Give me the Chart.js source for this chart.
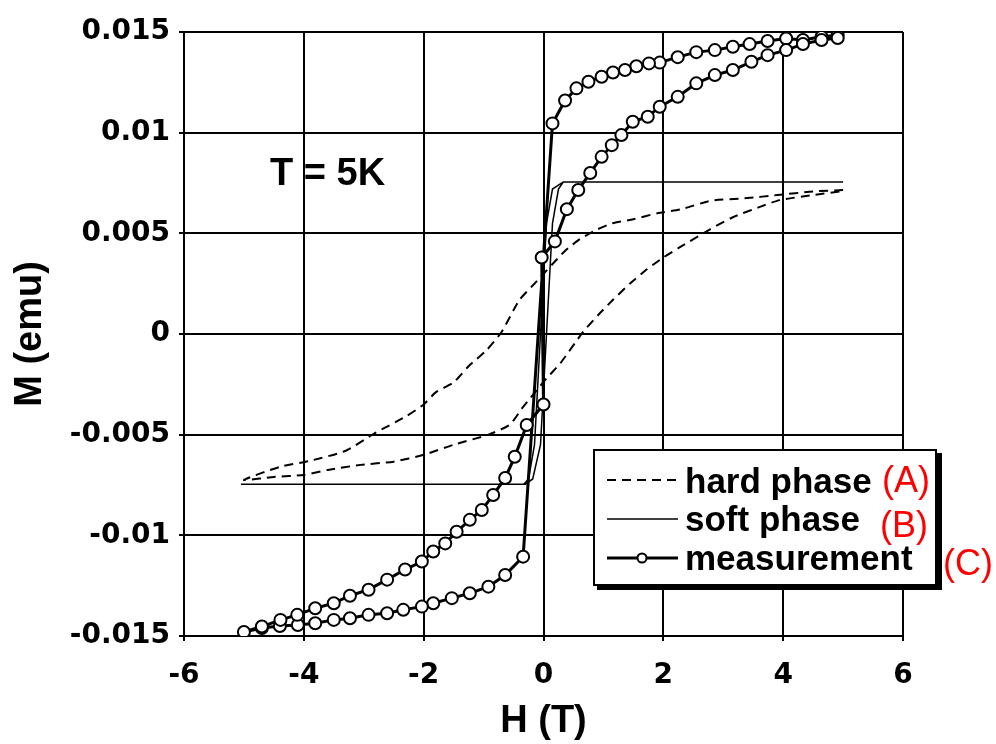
<!DOCTYPE html>
<html>
<head>
<meta charset="utf-8">
<script src="https://cdn.jsdelivr.net/npm/chart.js@4"></script>
<style>
  body { margin: 0; background: #fff; }
  #wrap { width: 996px; height: 744px; }
</style>
</head>
<body>
<div id="wrap"><canvas id="myChart" width="996" height="744"></canvas></div>
<script>
// tick values / labels
const xTicks = [-6, -4, -2, 0, 2, 4, 6];
const yTicks = [-0.015, -0.01, -0.005, 0, 0.005, 0.01, 0.015];
const yTickLabels = ['-0.015', '-0.01', '-0.005', '0', '0.005', '0.01', '0.015'];

// hard phase (A): upper branch +5 -> -5, then lower branch -5 -> +5
const hardH = [5.0, 4.5, 3.9, 3.4, 2.8, 2.3, 1.9, 1.5, 1.15, 0.9, 0.6, 0.35, -0.15, -0.4, -0.7, -0.95, -1.25, -1.5, -1.8, -2.0, -2.3, -2.8, -3.3, -3.9, -4.4, -5.0,
               -4.5, -4.0, -3.6, -3.05, -2.5, -2.0, -1.5, -0.92, -0.56, -0.36, 0.05, 0.28, 0.66, 0.94, 1.16, 1.44, 1.72, 2.0, 2.27, 2.78, 3.16, 3.6, 3.94, 4.5, 5.0];
const hardM = [0.00715, 0.00708, 0.0069, 0.00675, 0.00662, 0.0062, 0.006, 0.0057, 0.0055, 0.0052, 0.0047, 0.0041, 0.0025, 0.0017, 0.0001, -0.0008, -0.0016, -0.0024, -0.0029, -0.0035, -0.0041, -0.0049, -0.0058, -0.0063, -0.0066, -0.00725,
               -0.0071, -0.007, -0.00675, -0.0065, -0.00634, -0.006, -0.0055, -0.005, -0.0045, -0.0037, -0.0022, -0.00146, 0.0001, 0.00103, 0.0017, 0.0025, 0.0032, 0.0038, 0.0043, 0.0052, 0.0058, 0.0063, 0.00665, 0.0069, 0.0071];

// soft phase (B)
const softH = [5.0, 0.33, 0.15, 0.05, -0.05, -0.15, -0.25, -0.33, -5.05,
               -0.3, -0.18, -0.05, 0.05, 0.15, 0.25, 0.33, 5.0];
const softM = [0.00755, 0.00755, 0.0072, 0.0055, 0.0, -0.0055, -0.0072, -0.00746, -0.00746,
               -0.00746, -0.0072, -0.0055, 0.0, 0.0055, 0.0072, 0.00755, 0.00755];

// measurement (C)
const measH = [4.91, 4.64, 4.33, 4.05, 3.74, 3.44, 3.16, 2.86, 2.55, 2.24, 1.94, 1.76, 1.55, 1.36, 1.16, 0.97, 0.75, 0.55, 0.36, 0.15,
               -0.34, -0.64, -0.92, -1.23, -1.53, -1.84, -2.03, -2.34, -2.61, -2.92, -3.23, -3.5, -3.81, -4.1, -4.4, -4.7, -5.0,
               -4.7, -4.39, -4.11, -3.81, -3.5, -3.23, -2.92, -2.61, -2.31, -2.03, -1.84, -1.64, -1.45, -1.23, -1.03, -0.84, -0.64, -0.48, -0.28, 0.0,
               -0.03, 0.19, 0.39, 0.58, 0.78, 0.97, 1.14, 1.3, 1.49, 1.74, 1.94, 2.24, 2.55, 2.86, 3.16, 3.47, 3.74, 4.05, 4.33, 4.64, 4.91];
const measM = [0.01484, 0.01476, 0.0146, 0.01468, 0.01455, 0.0144, 0.01427, 0.0141, 0.014, 0.01375, 0.01348, 0.01344, 0.0133, 0.01311, 0.01299, 0.01278, 0.01253, 0.0122, 0.0116, 0.01046,
               -0.01106, -0.01197, -0.01255, -0.01288, -0.01312, -0.01337, -0.01354, -0.0137, -0.01387, -0.01395, -0.01412, -0.0142, -0.01437, -0.01445, -0.0145, -0.0146, -0.0148,
               -0.01453, -0.0142, -0.01395, -0.01362, -0.01337, -0.013, -0.0127, -0.0122, -0.0117, -0.0113, -0.0108, -0.0104, -0.00982, -0.00923, -0.00874, -0.008, -0.00715, -0.0061, -0.00452, -0.0035,
               0.0038, 0.0046, 0.0062, 0.00715, 0.008, 0.0088, 0.00938, 0.00988, 0.01054, 0.01079, 0.01129, 0.01178, 0.01245, 0.01286, 0.01311, 0.01352, 0.01385, 0.0141, 0.0144, 0.0146, 0.0147];

const legendNames = ['hard phase', 'soft phase', 'measurement'];
const legendTags = ['(A)', '(B)', '(C)'];

const pts = (hs, ms) => hs.map((h, i) => ({ x: h, y: ms[i] }));

const overlay = {
  id: 'overlay',
  afterDatasetsDraw(chart) {
    const c = chart.ctx;
    c.save();
    // T = 5K
    c.fillStyle = '#000';
    c.font = 'bold 38px "Liberation Sans", Arial, sans-serif';
    c.textBaseline = 'alphabetic';
    c.textAlign = 'left';
    c.fillText('T = 5K', 270, 185);

    // legend box with shadow
    c.fillStyle = '#000';
    c.fillRect(597, 453, 345, 137);
    c.fillStyle = '#fff';
    c.fillRect(593, 449, 344, 137);
    c.strokeStyle = '#000';
    c.lineWidth = 2;
    c.strokeRect(594, 450, 342, 135);

    const rows = [480, 519, 558];
    const base = [493, 531, 570];
    c.lineWidth = 2;
    c.setLineDash([9, 6]);
    c.beginPath(); c.moveTo(607, rows[0]); c.lineTo(678, rows[0]); c.stroke();
    c.setLineDash([]);
    c.lineWidth = 1.5;
    c.beginPath(); c.moveTo(607, rows[1]); c.lineTo(678, rows[1]); c.stroke();
    c.lineWidth = 3;
    c.beginPath(); c.moveTo(607, rows[2]); c.lineTo(678, rows[2]); c.stroke();
    c.lineWidth = 2;
    c.fillStyle = '#fff';
    c.beginPath(); c.arc(642, rows[2], 4.5, 0, Math.PI * 2); c.fill(); c.stroke();

    c.fillStyle = '#000';
    c.font = 'bold 35px "Liberation Sans", Arial, sans-serif';
    legendNames.forEach((n, i) => c.fillText(n, 685, base[i]));

    c.fillStyle = '#ff0000';
    c.font = '36px "Liberation Sans", Arial, sans-serif';
    const tagX = [882, 880, 943];
    const tagY = [492, 537, 575];
    legendTags.forEach((t, i) => c.fillText(t, tagX[i], tagY[i]));
    c.restore();
  }
};

const ctx = document.getElementById('myChart');

new Chart(ctx, {
  type: 'scatter',
  data: {
    datasets: [{
      label: legendNames[2],
      data: pts(measH, measM),
      showLine: true,
      borderColor: '#000',
      borderWidth: 3,
      pointRadius: 6,
      pointBorderWidth: 2,
      pointBorderColor: '#000',
      pointBackgroundColor: '#fff',
      tension: 0
    }, {
      label: legendNames[1],
      data: pts(softH, softM),
      showLine: true,
      borderColor: '#000',
      borderWidth: 1.5,
      pointRadius: 0,
      tension: 0
    }, {
      label: legendNames[0],
      data: pts(hardH, hardM),
      showLine: true,
      borderColor: '#000',
      borderWidth: 2,
      borderDash: [9, 6],
      pointRadius: 0,
      tension: 0.2
    }]
  },
  options: {
    responsive: false,
    animation: false,
    devicePixelRatio: 1,
    layout: { padding: { left: 0, top: 32, right: 93, bottom: 0 } },
    plugins: { legend: { display: false }, tooltip: { enabled: false } },
    scales: {
      x: {
        type: 'linear',
        min: -6,
        max: 6,
        afterFit(s) { s.height = 108; },
        afterBuildTicks(s) { s.ticks = xTicks.map(v => ({ value: v })); },
        grid: { color: '#000', lineWidth: 2, tickLength: 5 },
        border: { color: '#000', width: 2 },
        ticks: {
          color: '#000',
          padding: 18,
          maxRotation: 0,
          font: { family: '"DejaVu Sans"', size: 28, weight: 'bold' }
        },
        title: {
          display: true,
          text: 'H (T)',
          color: '#000',
          padding: 0,
          font: { family: '"Liberation Sans"', size: 38, weight: 'bold' }
        }
      },
      y: {
        type: 'linear',
        min: -0.015,
        max: 0.015,
        afterFit(s) { s.width = 184; },
        afterBuildTicks(s) { s.ticks = yTicks.map(v => ({ value: v })); },
        grid: { color: '#000', lineWidth: 2, tickLength: 5 },
        border: { color: '#000', width: 2 },
        ticks: {
          color: '#000',
          padding: 9,
          font: { family: '"DejaVu Sans"', size: 28, weight: 'bold' },
          callback: (v, i) => yTickLabels[i]
        },
        title: {
          display: true,
          text: 'M (emu)',
          color: '#000',
          padding: { top: 8, bottom: 0 },
          font: { family: '"Liberation Sans"', size: 38, weight: 'bold' }
        }
      }
    }
  },
  plugins: [overlay]
});
</script>
</body>
</html>
